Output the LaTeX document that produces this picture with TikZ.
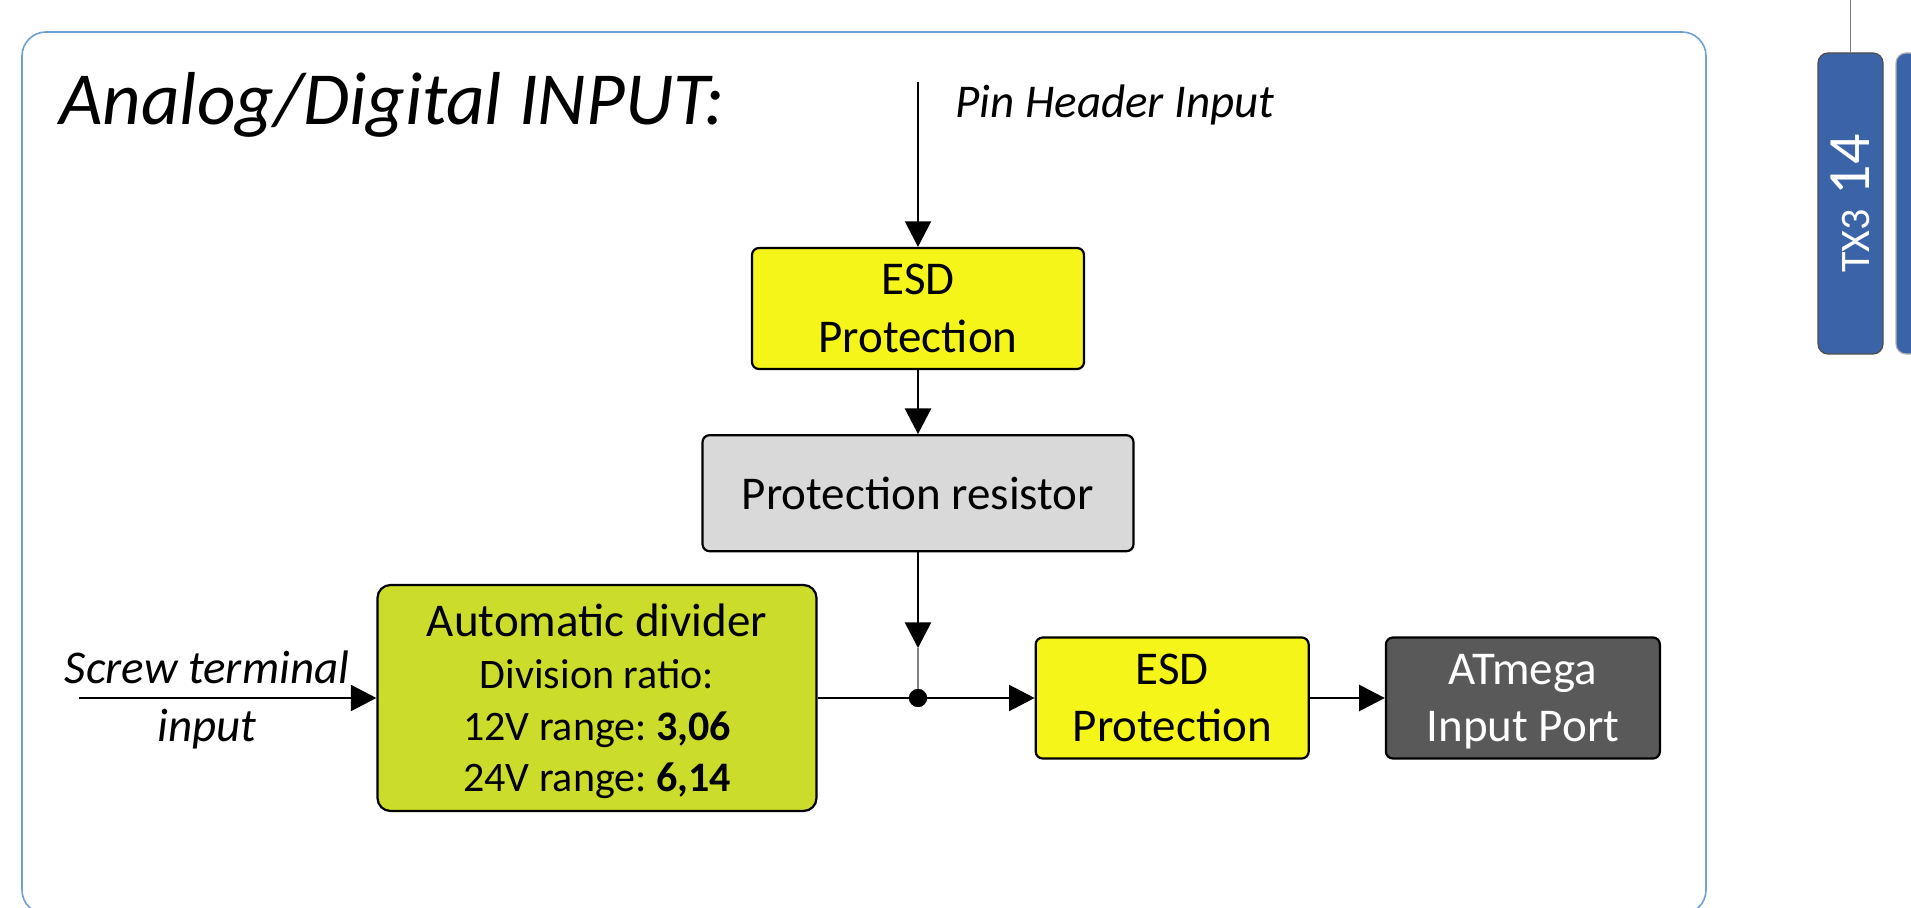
\documentclass[tikz,border=0pt]{standalone}
\usepackage{fontspec}
\setmainfont{Carlito}
\frenchspacing
\usetikzlibrary{positioning, arrows.meta}
\definecolor{framecol}{RGB}{110,160,215}
\definecolor{esdcol}{RGB}{245,245,25}
\definecolor{divcol}{RGB}{203,220,42}
\definecolor{rescol}{RGB}{217,217,217}
\definecolor{atmcol}{RGB}{89,89,89}
\definecolor{pincol}{RGB}{59,99,168}
\newcommand{\ratiofont}{\fontsize{21}{25.8}\selectfont}
\tikzset{
  x=0.5pt, y=-0.5pt,
  >={Triangle[length=12.8pt, width=13pt]},
  box/.style={draw, line width=1.1pt, rounded corners=3.5pt, align=center,
    inner sep=2pt, font=\fontsize{23.5}{28.8}\selectfont},
  esdbox/.style={box, fill=esdcol, minimum height=60.5pt},
  resbox/.style={box, fill=rescol, minimum width=215.5pt, minimum height=58pt},
  divbox/.style={box, fill=divcol, rounded corners=6.5pt, minimum width=219.5pt,
    minimum height=113pt, font=\fontsize{23.5}{25.8}\selectfont},
  atmbox/.style={box, fill=atmcol, text=white, minimum width=137pt, minimum height=60.5pt},
  pinbox/.style={draw=black!70, fill=pincol, line width=0.6pt, rounded corners=5pt,
    text=white, inner sep=0pt, minimum width=150.5pt, minimum height=32.5pt,
    font=\fontsize{30}{30}\selectfont},
  tag/.style={inner sep=0pt, font=\fontsize{23.5}{28.8}\selectfont\itshape},
  dot/.style={circle, fill, inner sep=0pt, minimum size=9pt},
  wire/.style={line width=1.1pt},
  thinwire/.style={gray, line width=0.7pt},
}
\begin{document}
\begin{tikzpicture}
  \useasboundingbox (0,0) rectangle (1911,908);

  % frame and title
  \draw[framecol, line width=0.8pt, rounded corners=12pt] (22,32) rectangle (1706,914);
  \node[tag, font=\fontsize{37.5}{40}\selectfont\itshape, anchor=base west] (title) at (59,125) {Analog/Digital INPUT:};

  % blocks
  \node[esdbox, minimum width=166pt] (esda) at (918,308.5) {ESD\\Protection};
  \node[resbox, below=32pt of esda] (res) {Protection resistor};
  \node[divbox] (div) at (597,698) {Automatic divider\\
      {\ratiofont Division ratio:}\\
      {\ratiofont 12V range: \textbf{3,06}}\\
      {\ratiofont\smash{24V range: \textbf{6,14}}}};
  \node[esdbox, minimum width=136.5pt, right=108.5pt of div] (esdb) {ESD\\Protection};
  \node[atmbox, right=37.5pt of esdb] (atm) {ATmega\\\smash{Input Port}};
  \node[dot] (junc) at (918,698) {};

  % inputs
  \coordinate (pin) at (918,82);
  \coordinate (screw) at (79,698);
  \coordinate (tip) at (918,648);
  \node[tag, anchor=base west] (pintxt) at (955,118) {Pin Header Input};
  \node[tag, anchor=base] (screwtxt) at (207,683.3) {Screw terminal};
  \node[tag, anchor=base] (inputtxt) at (207,741) {input};

  % connections
  \draw[->, line width=1pt] (pin) -- (esda);
  \draw[wire, ->] (esda) -- (res);
  \draw[wire, ->] (res) -- (tip);
  \draw[thinwire] (tip) -- (junc);
  \draw[wire, ->] (screw) -- (div);
  \draw[wire, ->] (div) -- (esdb);
  \draw[wire, ->] (esdb) -- (atm);
  \node[dot] at (junc) {};

  % pin header on the right
  \node[pinbox, rotate=90] (tx3) at (1850.5,203.5) {{\fontsize{21}{21}\selectfont TX3} 14};
  \node[pinbox, rotate=90, draw=gray!60] (nextpin) at (1928.5,203.5) {};
  \coordinate (txwire) at (1850.5,0);
  \draw[gray, line width=0.8pt] (txwire) -- (tx3);
\end{tikzpicture}
\end{document}
